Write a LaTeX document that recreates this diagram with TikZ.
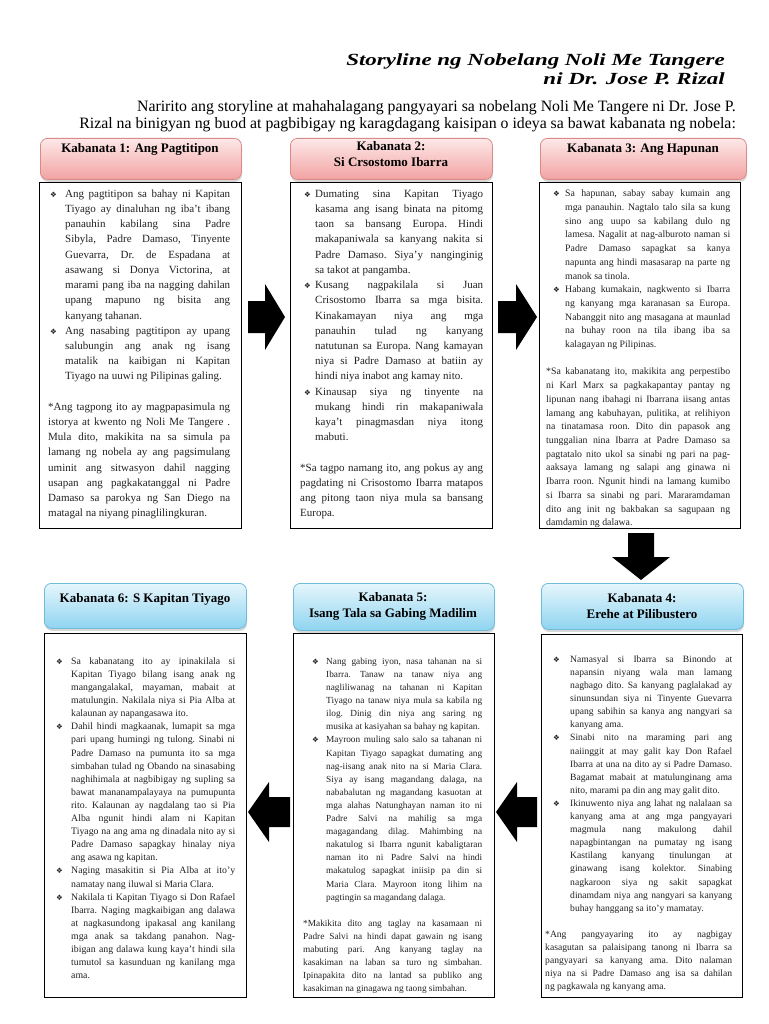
\documentclass[tikz,border=0pt]{standalone}
\usepackage{fontspec}
\setmainfont{Liberation Serif}
\newfontfamily\titlefont[FakeStretch=1.35]{Liberation Serif}
\newfontfamily\bulfont{DejaVu Sans}
\usetikzlibrary{shadows}

\definecolor{redtop}{HTML}{FDE8E8}
\definecolor{redbot}{HTML}{F2A3A2}
\definecolor{redline}{HTML}{D98B8A}
\definecolor{bluetop}{HTML}{E6F6FC}
\definecolor{bluebot}{HTML}{8FD4F0}
\definecolor{blueline}{HTML}{6FBCD9}
\definecolor{bodytxt}{HTML}{222222}

% bullet offset and text indent inside a box
\newlength\bulx
\newlength\txtx
\newcommand{\ind}[2]{\setlength\bulx{#1pt}\setlength\txtx{#2pt}}
\newcommand{\itm}{\par\hangindent=\txtx\hangafter=1\noindent\hbox to \txtx{\hspace*{\bulx}{\bulfont\fontsize{7.5}{7.5}\selectfont ❖}\hfil}\ignorespaces}
\newcommand{\starpar}{\par\vspace{\baselineskip}\noindent}
\newcommand{\brk}{\linebreak}
% black block arrow: tip, rotation, length, head length, head half width, shaft half width
\newcommand{\blkarrow}[6]{\fill[black, shift={#1}, rotate=#2] (0,0) -- (-#4,-#5) -- (-#4,-#6) -- (-#3,-#6) -- (-#3,#6) -- (-#4,#6) -- (-#4,#5) -- cycle;}

\begin{document}
\begin{tikzpicture}[x=1pt, y=-1pt,
    redhead/.style={draw=redline, line width=0.8pt, rounded corners=7pt, top color=redtop, bottom color=redbot,
      drop shadow={shadow xshift=0.6pt, shadow yshift=-2.5pt, opacity=0.3}, anchor=north west, inner sep=0pt},
    bluehead/.style={draw=blueline, line width=0.8pt, rounded corners=7pt, top color=bluetop, bottom color=bluebot,
      drop shadow={shadow xshift=0.6pt, shadow yshift=-2.5pt, opacity=0.3}, anchor=north west, inner sep=0pt},
    headtxt/.style={font=\fontsize{13}{16}\selectfont\bfseries, align=center, inner sep=0pt, anchor=north},
    cbox/.style={draw=black, line width=1.2pt, fill=white, anchor=north west, inner sep=0pt},
    body/.style={inner sep=0pt, anchor=north west, align=justify, text=bodytxt,
      execute at begin node={\frenchspacing\tolerance=9999\hbadness=10000\hfuzz=20pt\hyphenpenalty=10000}},
    titletxt/.style={font=\titlefont\bfseries\itshape\fontsize{17}{19}\selectfont, align=right, anchor=north east, inner sep=0pt},
    introtxt/.style={font=\fontsize{15.8}{17.5}\selectfont, align=right, anchor=north east, inner sep=0pt}
  ]
  \useasboundingbox (0,0) rectangle (768,1024);
  \fill[white] (0,0) rectangle (768,1024);

  % title and intro
  \node[titletxt] (title) at (725,54) {Storyline ng Nobelang Noli Me Tangere\\ ni Dr. Jose P. Rizal};
  \node[introtxt] (intro) at (736,100) {Naririto ang storyline at mahahalagang pangyayari sa nobelang Noli Me Tangere ni Dr. Jose P.\\
    Rizal na binigyan ng buod at pagbibigay ng karagdagang kaisipan o ideya sa bawat kabanata ng nobela:};

  % top row headers
  \node[redhead, minimum width=201pt, minimum height=41pt] (h1) at (40,138) {};
  \node[headtxt] (t1) at (140,143) {Kabanata 1: Ang Pagtitipon};
  \node[redhead, minimum width=202pt, minimum height=41pt] (h2) at (290,138) {};
  \node[headtxt] (t2) at (391,141) {Kabanata 2:\\ Si Crsostomo Ibarra};
  \node[redhead, minimum width=206pt, minimum height=41pt] (h3) at (540,138) {};
  \node[headtxt] (t3) at (643,143) {Kabanata 3: Ang Hapunan};

  % top row boxes
  \node[cbox, minimum width=202pt, minimum height=346pt] (b1) at (39,182) {};
  \node[cbox, minimum width=202pt, minimum height=346pt] (b2) at (290,182) {};
  \node[cbox, minimum width=201pt, minimum height=346pt] (b3) at (539,182) {};

  \node[body, text width=182pt, font=\fontsize{11}{15.2}\selectfont] (n1) at (48,182) {\ind{2}{17}%
    \itm Ang pagtitipon sa bahay ni Kapitan\brk Tiyago ay dinaluhan ng iba't ibang\brk panauhin kabilang sina Padre\brk Sibyla, Padre Damaso, Tinyente\brk Guevarra, Dr. de Espadana at\brk asawang si Donya Victorina, at\brk marami pang iba na nagging dahilan\brk upang mapuno ng bisita ang\brk kanyang tahanan.
    \itm Ang nasabing pagtitipon ay upang\brk salubungin ang anak ng isang\brk matalik na kaibigan ni Kapitan\brk Tiyago na uuwi ng Pilipinas galing.
    \starpar *Ang tagpong ito ay magpapasimula ng\brk istorya at kwento ng Noli Me Tangere .\brk Mula dito, makikita na sa simula pa\brk lamang ng nobela ay ang pagsimulang\brk uminit ang sitwasyon dahil nagging\brk usapan ang pagkakatanggal ni Padre\brk Damaso sa parokya ng San Diego na\brk matagal na niyang pinaglilingkuran.\par};

  \node[body, text width=183pt, font=\fontsize{11}{15.2}\selectfont] (n2) at (300,182) {\ind{4}{15}%
    \itm Dumating sina Kapitan Tiyago\brk kasama ang isang binata na pitomg\brk taon sa bansang Europa. Hindi\brk makapaniwala sa kanyang nakita si\brk Padre Damaso. Siya'y nanginginig\brk sa takot at pangamba.
    \itm Kusang nagpakilala si Juan\brk Crisostomo Ibarra sa mga bisita.\brk Kinakamayan niya ang mga\brk panauhin tulad ng kanyang\brk natutunan sa Europa. Nang kamayan\brk niya si Padre Damaso at batiin ay\brk hindi niya inabot ang kamay nito.
    \itm Kinausap siya ng tinyente na\brk mukang hindi rin makapaniwala\brk kaya't pinagmasdan niya itong\brk mabuti.
    \starpar *Sa tagpo namang ito, ang pokus ay ang\brk pagdating ni Crisostomo Ibarra matapos\brk ang pitong taon niya mula sa bansang\brk Europa.\par};

  \node[body, text width=184pt, font=\fontsize{9.8}{13.7}\selectfont] (n3) at (546,183) {\ind{7}{19}%
    \itm Sa hapunan, sabay sabay kumain ang\brk mga panauhin. Nagtalo talo sila sa kung\brk sino ang uupo sa kabilang dulo ng\brk lamesa. Nagalit at nag-alburoto naman si\brk Padre Damaso sapagkat sa kanya\brk napunta ang hindi masasarap na parte ng\brk manok sa tinola.
    \itm Habang kumakain, nagkwento si Ibarra\brk ng kanyang mga karanasan sa Europa.\brk Nabanggit nito ang masagana at maunlad\brk na buhay roon na tila ibang iba sa\brk kalagayan ng Pilipinas.
    \starpar *Sa kabanatang ito, makikita ang perpestibo\brk ni Karl Marx sa pagkakapantay pantay ng\brk lipunan nang ibahagi ni Ibarrana iisang antas\brk lamang ang kabuhayan, pulitika, at relihiyon\brk na tinatamasa roon. Dito din papasok ang\brk tunggalian nina Ibarra at Padre Damaso sa\brk pagtatalo nito ukol sa sinabi ng pari na pag-\brk aaksaya lamang ng salapi ang ginawa ni\brk Ibarra roon. Ngunit hindi na lamang kumibo\brk si Ibarra sa sinabi ng pari. Mararamdaman\brk dito ang init ng bakbakan sa sagupaan ng\brk damdamin ng dalawa.\par};

  % arrows between the chapters
  \blkarrow{(285,317)}{0}{37}{20}{33}{16}
  \blkarrow{(537,317)}{0}{39}{21}{33}{16}
  \blkarrow{(641,580)}{-90}{47}{23}{29}{13}
  \blkarrow{(496,812)}{180}{41}{21}{30}{15}
  \blkarrow{(248,812)}{180}{42}{21}{30}{15}

  % bottom row headers
  \node[bluehead, minimum width=202pt, minimum height=45pt] (h6) at (44,583) {};
  \node[headtxt] (t6) at (145,593) {Kabanata 6: S Kapitan Tiyago};
  \node[bluehead, minimum width=201pt, minimum height=47pt] (h5) at (293,583) {};
  \node[headtxt] (t5) at (393,592) {Kabanata 5:\\ Isang Tala sa Gabing Madilim};
  \node[bluehead, minimum width=202pt, minimum height=46pt] (h4) at (541,583) {};
  \node[headtxt] (t4) at (642,593) {Kabanata 4:\\ Erehe at Pilibustero};

  % bottom row boxes
  \node[cbox, minimum width=202pt, minimum height=364pt] (b6) at (44,633) {};
  \node[cbox, minimum width=201pt, minimum height=364pt] (b5) at (293,633) {};
  \node[cbox, minimum width=201pt, minimum height=363pt] (b4) at (541,634) {};

  \node[body, text width=187pt, font=\fontsize{9.6}{13.1}\selectfont] (n4) at (545,649) {\ind{8}{25}%
    \itm Namasyal si Ibarra sa Binondo at\brk napansin niyang wala man lamang\brk nagbago dito. Sa kanyang paglalakad ay\brk sinunsundan siya ni Tinyente Guevarra\brk upang sabihin sa kanya ang nangyari sa\brk kanyang ama.
    \itm Sinabi nito na maraming pari ang\brk naiinggit at may galit kay Don Rafael\brk Ibarra at una na dito ay si Padre Damaso.\brk Bagamat mabait at matulunginang ama\brk nito, marami pa din ang may galit dito.
    \itm Ikinuwento niya ang lahat ng nalalaan sa\brk kanyang ama at ang mga pangyayari\brk magmula nang makulong dahil\brk napagbintangan na pumatay ng isang\brk Kastilang kanyang tinulungan at\brk ginawang isang kolektor. Sinabing\brk nagkaroon siya ng sakit sapagkat\brk dinamdam niya ang nangyari sa kanyang\brk buhay hanggang sa ito'y mamatay.
    \starpar *Ang pangyayaring ito ay nagbigay\brk kasagutan sa palaisipang tanong ni Ibarra sa\brk pangyayari sa kanyang ama. Dito nalaman\brk niya na si Padre Damaso ang isa sa dahilan\brk ng pagkawala ng kanyang ama.\par};

  \node[body, text width=179pt, font=\fontsize{9.3}{13.1}\selectfont] (n5) at (303,651) {\ind{9}{23}%
    \itm Nang gabing iyon, nasa tahanan na si\brk Ibarra. Tanaw na tanaw niya ang\brk nagliliwanag na tahanan ni Kapitan\brk Tiyago na tanaw niya mula sa kabila ng\brk ilog. Dinig din niya ang saring ng\brk musika at kasiyahan sa bahay ng kapitan.
    \itm Mayroon muling salo salo sa tahanan ni\brk Kapitan Tiyago sapagkat dumating ang\brk nag-iisang anak nito na si Maria Clara.\brk Siya ay isang magandang dalaga, na\brk nababalutan ng magandang kasuotan at\brk mga alahas Natunghayan naman ito ni\brk Padre Salvi na mahilig sa mga\brk magagandang dilag. Mahimbing na\brk nakatulog si Ibarra ngunit kabaligtaran\brk naman ito ni Padre Salvi na hindi\brk makatulog sapagkat iniisip pa din si\brk Maria Clara. Mayroon itong lihim na\brk pagtingin sa magandang dalaga.
    \starpar *Makikita dito ang taglay na kasamaan ni\brk Padre Salvi na hindi dapat gawain ng isang\brk mabuting pari. Ang kanyang taglay na\brk kasakiman na laban sa turo ng simbahan.\brk Ipinapakita dito na lantad sa publiko ang\brk kasakiman na ginagawa ng taong simbahan.\par};

  \node[body, text width=182pt, font=\fontsize{9.8}{13.1}\selectfont] (n6) at (53,651) {\ind{3}{18}%
    \itm Sa kabanatang ito ay ipinakilala si\brk Kapitan Tiyago bilang isang anak ng\brk mangangalakal, mayaman, mabait at\brk matulungin. Nakilala niya si Pia Alba at\brk kalaunan ay napangasawa ito.
    \itm Dahil hindi magkaanak, lumapit sa mga\brk pari upang humingi ng tulong. Sinabi ni\brk Padre Damaso na pumunta ito sa mga\brk simbahan tulad ng Obando na sinasabing\brk naghihimala at nagbibigay ng supling sa\brk bawat mananampalayaya na pumupunta\brk rito. Kalaunan ay nagdalang tao si Pia\brk Alba ngunit hindi alam ni Kapitan\brk Tiyago na ang ama ng dinadala nito ay si\brk Padre Damaso sapagkay hinalay niya\brk ang asawa ng kapitan.
    \itm Naging masakitin si Pia Alba at ito'y\brk namatay nang iluwal si Maria Clara.
    \itm Nakilala ti Kapitan Tiyago si Don Rafael\brk Ibarra. Naging magkaibigan ang dalawa\brk at nagkasundong ipakasal ang kanilang\brk mga anak sa takdang panahon. Nag-\brk ibigan ang dalawa kung kaya't hindi sila\brk tumutol sa kasunduan ng kanilang mga\brk ama.\par};
\end{tikzpicture}
\end{document}
